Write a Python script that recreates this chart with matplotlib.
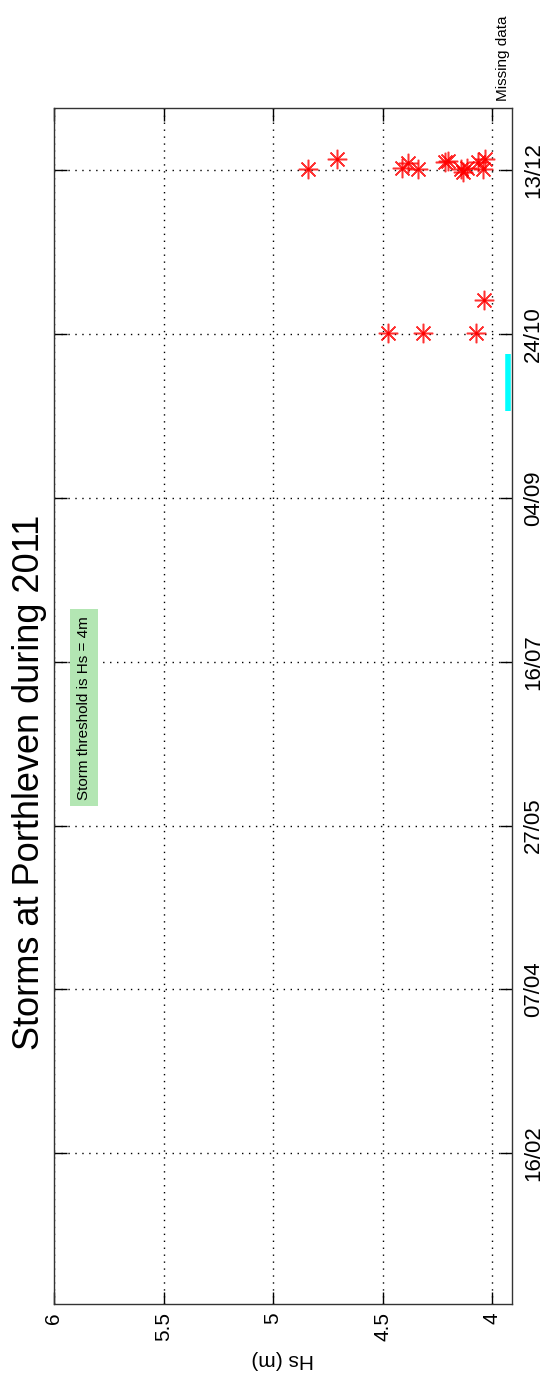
import numpy as np
import matplotlib
matplotlib.use("Agg")
import matplotlib.pyplot as plt
import matplotlib.dates as mdates

plt.rcParams['font.family'] = ['Liberation Sans', 'DejaVu Sans']

# storm peaks: Hs (m) and time
storm_hs = [4.84, 4.71, 4.41, 4.385, 4.34, 4.215, 4.20, 4.145, 4.135, 4.115,
            4.065, 4.044, 4.035,
            4.474, 4.317, 4.074, 4.04]
storm_time = np.array(['2011-12-13T09:00', '2011-12-16T12:00', '2011-12-13T18:00',
                       '2011-12-15T06:00', '2011-12-13T09:00', '2011-12-15T15:00',
                       '2011-12-15T21:00', '2011-12-13T09:00', '2011-12-12T12:00',
                       '2011-12-13T18:00', '2011-12-15T12:00', '2011-12-13T06:00',
                       '2011-12-16T09:00',
                       '2011-10-24T06:00', '2011-10-24T06:00', '2011-10-24T06:00',
                       '2011-11-03T12:00'], dtype='datetime64[m]')

# gap in the record
missing_hs = [3.93, 3.93]
missing_time = np.array(['2011-09-30T15:00', '2011-10-18T00:00'], dtype='datetime64[m]')

tick_dates = np.array(['2011-02-16', '2011-04-07', '2011-05-27', '2011-07-16',
                       '2011-09-04', '2011-10-24', '2011-12-13'], dtype='datetime64[D]')
hs_ticks = [6, 5.5, 5, 4.5, 4]
hs_labels = ['6', '5.5', '5', '4.5', '4']

fig = plt.figure(figsize=(5.49, 13.83), dpi=100)
ax = fig.add_axes([54/549, 1-1304/1383, 458/549, 1196/1383])

ax.plot(missing_hs, missing_time, color='#00ffff', lw=4, solid_capstyle='butt')
ax.plot(storm_hs, storm_time, ls='none', marker=(8, 2, 0), ms=14, mew=1.1,
        color='red', alpha=0.8)
ax.plot(storm_hs, storm_time, ls='none', marker='o', ms=2.5, color='red', mew=0)

ax.set_xlim(6, 3.91)
ax.set_ylim(np.datetime64('2011-01-01'), np.datetime64('2012-01-01'))

ax.set_xticks(hs_ticks)
ax.set_xticklabels(hs_labels, rotation=90, va='top', ha='center')
ax.set_yticks(tick_dates)
ax.yaxis.set_major_formatter(mdates.DateFormatter('%d/%m'))
ax.yaxis.tick_right()
for lab in ax.get_yticklabels():
    lab.set_rotation(90)
    lab.set_va('center')

ax.tick_params(direction='in', length=9, width=1, labelsize=15,
               top=True, bottom=True, left=True, right=True)
ax.tick_params(axis='y', pad=8, labelsize=16)
ax.tick_params(axis='x', pad=6)
ax.grid(True, color='black', ls=(0, (1, 4)), lw=1)
for s in ax.spines.values():
    s.set_linewidth(1)
    s.set_color('#333333')

ax.set_xlabel('Hs (m)', fontsize=15, rotation=180, labelpad=6)

ax.text(5.863, np.datetime64('2011-07-02'), 'Storm threshold is Hs = 4m',
        rotation=90, ha='center', va='center', fontsize=11,
        bbox=dict(boxstyle='square,pad=0.45', fc='#b3e6b3', ec='none'))

ax.text(3.95, 1.006, 'Missing data', rotation=90, ha='center', va='bottom',
        fontsize=11, transform=ax.get_xaxis_transform(), clip_on=False)

fig.text(30/549, 1-782/1383, 'Storms at Porthleven during 2011', rotation=90,
         ha='center', va='center', fontsize=26)

fig.savefig('out.png', dpi=100, facecolor='white')
